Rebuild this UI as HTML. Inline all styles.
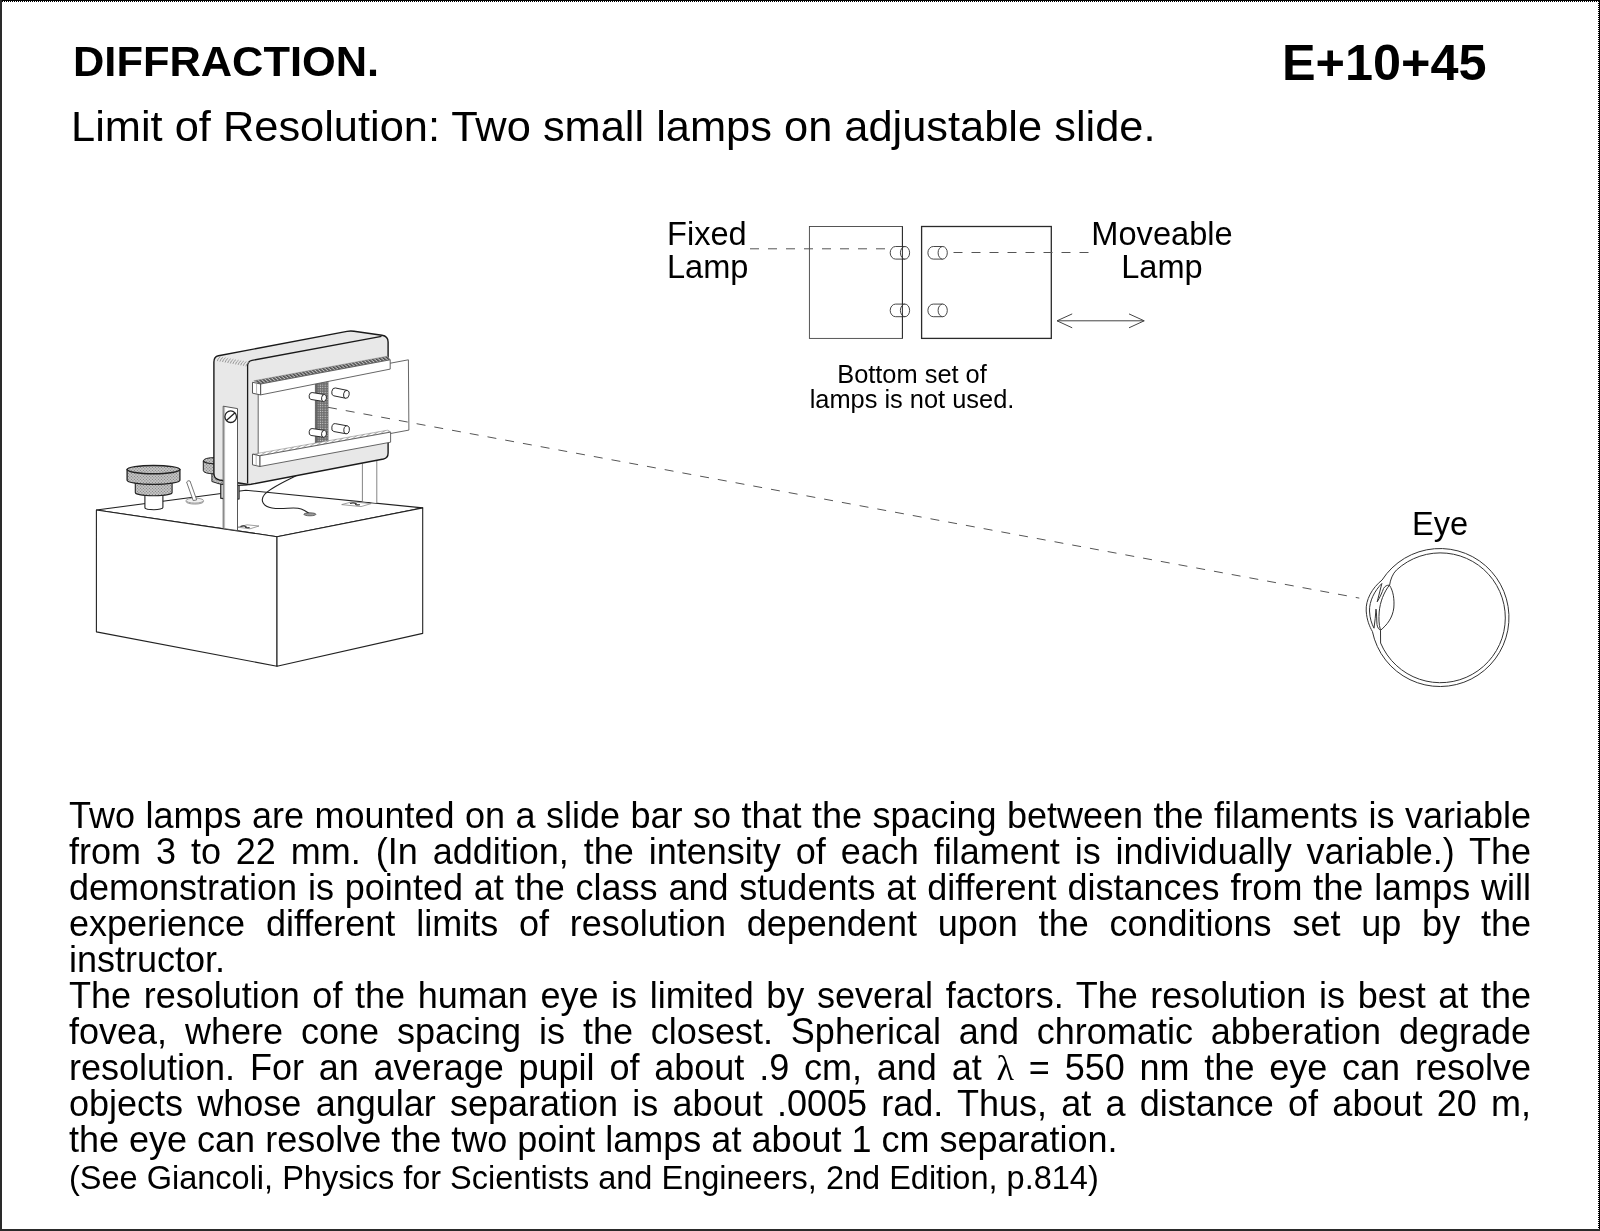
<!DOCTYPE html>
<html>
<head>
<meta charset="utf-8">
<title>DIFFRACTION E+10+45</title>
<style>
html,body{margin:0;padding:0;background:#fff;}
body{width:1600px;height:1231px;position:relative;overflow:hidden;-webkit-font-smoothing:antialiased;font-family:"Liberation Sans",sans-serif;color:#000;}
.bd{position:absolute;}
#bt{left:0;top:0;width:1600px;height:1px;background:#000;}
#bt2{left:2px;top:1px;width:1597px;height:1px;background:repeating-linear-gradient(90deg,#000 0 1px,#fff 1px 2px);}
#br{left:1599px;top:0;width:1px;height:1231px;background:#000;}
#br2{left:1598px;top:1px;width:1px;height:1228px;background:repeating-linear-gradient(180deg,#000 0 1px,#fff 1px 2px);}
#bl{left:0;top:0;width:2px;height:1231px;background:#2a2a2a;}
#bb{left:0;top:1229px;width:1600px;height:2px;background:#2a2a2a;}
.t{position:absolute;white-space:nowrap;margin:0;will-change:transform;}
#title{left:72.5px;top:37px;font-size:43.4px;font-weight:bold;line-height:48px;}
#code{left:1282px;top:35px;font-size:50.4px;font-weight:bold;line-height:56px;}
#sub{left:70.5px;top:102px;font-size:43.4px;line-height:48px;}
.lab{font-size:32.6px;line-height:32.5px;text-align:center;}
#fixed{left:667px;top:218px;text-align:left;}
#move{left:1082px;top:218px;width:160px;}
#bot{left:760px;top:362px;width:304px;font-size:25.4px;line-height:25.2px;text-align:center;}
#eye{left:1411.5px;top:506px;font-size:32.6px;line-height:36px;}
#body{will-change:transform;position:absolute;left:69px;top:798px;width:1462px;font-size:36px;line-height:36px;}
#body div{white-space:nowrap;text-align:justify;text-align-last:justify;height:36px;}
#body div.l{text-align:left;text-align-last:left;}
#ref{left:69px;top:1160px;font-size:32.5px;line-height:36px;}
svg{position:absolute;left:0;top:0;}
</style>
</head>
<body>
<div class="bd" id="bt"></div><div class="bd" id="bt2"></div><div class="bd" id="br"></div><div class="bd" id="br2"></div><div class="bd" id="bl"></div><div class="bd" id="bb"></div>
<div class="t" id="title">DIFFRACTION.</div>
<div class="t" id="code">E+10+45</div>
<div class="t" id="sub">Limit of Resolution: Two small lamps on adjustable slide.</div>
<div class="t lab" id="fixed">Fixed<br>Lamp</div>
<div class="t lab" id="move">Moveable<br>Lamp</div>
<div class="t" id="bot">Bottom set of<br>lamps is not used.</div>
<div class="t" id="eye">Eye</div>
<svg width="1600" height="1231" viewBox="0 0 1600 1231">
<defs>
<pattern id="stip" width="2.4" height="2.4" patternUnits="userSpaceOnUse"><rect width="2.4" height="2.4" fill="#6a6a6a"/><rect x="0.6" y="0.6" width="1.1" height="1.1" fill="#d8d8d8"/></pattern>
<pattern id="knob" width="3" height="3" patternUnits="userSpaceOnUse"><rect width="3" height="3" fill="#c6c6c6"/><rect x="0.4" y="0.4" width="1" height="1" fill="#6a6a6a"/><rect x="1.9" y="1.9" width="1" height="1" fill="#7a7a7a"/></pattern>
<pattern id="hat" width="2.6" height="6" patternUnits="userSpaceOnUse" patternTransform="rotate(-50)"><rect width="2.6" height="6" fill="#c4c4c4"/><rect width="1.5" height="6" fill="#4a4a4a"/></pattern>
<pattern id="hat2" width="3" height="6" patternUnits="userSpaceOnUse" patternTransform="rotate(55)"><rect width="3" height="6" fill="#fff"/><rect width="0.9" height="6" fill="#aaa"/></pattern>
</defs>
<g fill="none" stroke="#2a2a2a" stroke-width="1.1">
<rect x="809.4" y="226.5" width="93" height="111.9" stroke="#444" stroke-width="0.9"/>
<rect x="921.6" y="226.5" width="129.7" height="111.9" stroke-width="1.3"/>
</g>
<g stroke="#555" stroke-width="1" stroke-dasharray="9 9" fill="none">
<path d="M750,248.8 H888"/>
<path d="M953.5,252.5 H1090"/>
</g>
<g fill="#fff" stroke="#333" stroke-width="0.9"><path d="M895.6,246.5 H905.0 V259.1 H895.6 A5.4,6.3 0 0 1 895.6,246.5 Z"/><ellipse cx="905.0" cy="252.8" rx="4.6" ry="6.3"/></g>
<g fill="#fff" stroke="#333" stroke-width="0.9"><path d="M895.6,304.1 H905.0 V316.7 H895.6 A5.4,6.3 0 0 1 895.6,304.1 Z"/><ellipse cx="905.0" cy="310.4" rx="4.6" ry="6.3"/></g>
<g fill="#fff" stroke="#333" stroke-width="0.9"><path d="M933.3,246.5 H942.7 V259.1 H933.3 A5.4,6.3 0 0 1 933.3,246.5 Z"/><ellipse cx="942.7" cy="252.8" rx="4.6" ry="6.3"/></g>
<g fill="#fff" stroke="#333" stroke-width="0.9"><path d="M933.3,304.1 H942.7 V316.7 H933.3 A5.4,6.3 0 0 1 933.3,304.1 Z"/><ellipse cx="942.7" cy="310.4" rx="4.6" ry="6.3"/></g>
<path d="M902.4,226.5 V338.4" stroke="#2a2a2a" stroke-width="1" fill="none"/>
<g stroke="#444" stroke-width="1" fill="none"><path d="M1057,320.8 H1144.2"/><path d="M1072.2,313.9 L1057,320.8 L1072.2,327.8"/><path d="M1129,313.9 L1144.2,320.8 L1129,327.8"/></g>
<g fill="#fff" stroke="#222" stroke-width="1.1" stroke-linejoin="round">
<path d="M96.4,510 L245.8,490.2 L422.7,507.9 L277,536.7 Z"/>
<path d="M96.4,510 L277,536.7 L277,666.3 L96.4,631.9 Z"/>
<path d="M277,536.7 L422.7,507.9 L422.7,633.4 L277,666.3 Z"/>
</g>
<g fill="#fff" stroke="#777" stroke-width="0.7">
<path d="M341.7,504.6 L352,501.8 L371.2,503.6 L361,506.6 Z"/>
<path d="M238,527.2 L247,524.8 L259,526 L250,528.8 Z"/>
</g>
<path d="M350,503.6 q3,-1.5 6,0 q-2,1.6 4,1.2 M240.5,526.6 q3,-1.5 5.5,0 q-2,1.4 3.6,1" stroke="#333" stroke-width="1.1" fill="none"/>
<path d="M362.4,462 V501.3 L376.8,503 V459 Z" fill="#fff" stroke="none"/>
<path d="M362.4,463.5 V501.3 M376.8,460.5 V503" stroke="#777" stroke-width="0.9" fill="none"/>
<path d="M296.4,475.6 C286,481 270,488 264.5,494.5 C259.5,500.5 263.5,506.5 272,508 C283,509.8 294,506.5 301.2,508.9 C305,510.2 307,512 309.4,513.7" stroke="#222" stroke-width="1.1" fill="none"/>
<ellipse cx="309.9" cy="514.3" rx="6" ry="1.5" fill="#999" stroke="#333" stroke-width="0.7"/>
<g stroke="#222" stroke-width="1.1">
<path d="M144.9,494 V507.4 A9,2.3 0 0 0 162.9,507.4 V494 Z" fill="#fff"/>
<path d="M135.3,482 V492.6 A18.4,3.2 0 0 0 172.1,492.6 V482 Z" fill="url(#knob)"/>
<path d="M127.1,469.6 V480.3 A26.4,4.1 0 0 0 179.9,480.3 V469.6 Z" fill="url(#knob)" stroke-width="1.3"/>
<ellipse cx="153.5" cy="469.6" rx="26.4" ry="4.15" fill="url(#knob)" stroke-width="1.4"/>
</g>
<ellipse cx="194.8" cy="501.6" rx="8.7" ry="2.5" fill="#f0f0f0" stroke="#888" stroke-width="0.8"/>
<ellipse cx="194.8" cy="500.6" rx="8.7" ry="2.5" fill="#f0f0f0" stroke="#888" stroke-width="0.8"/>
<path d="M193.2,500.6 L186.6,482 Q187.8,480 190,481 L196.7,499.9 Z" fill="#fff" stroke="#666" stroke-width="0.9"/>
<g stroke="#222" stroke-width="1" fill="url(#knob)">
<path d="M220.8,484 V498.2 Q230,500.8 239,498.8 V484 Z" fill="#fff" stroke-width="1.3"/>
<path d="M211.9,470 V481.5 Q225,487 247.6,485 V470 Z"/>
<path d="M203.3,460.8 Q204,457.7 215,457.6 V474 Q203.3,473.5 203.3,470.5 Z"/>
<path d="M203.3,460.8 Q204.5,463.6 215,463.8" fill="none" stroke-width="1.2"/>
</g>
<path d="M213.9,362 Q213.9,356.5 218.5,355.7 L347,331.4 Q350.5,330.8 354,331.3 L382,335.3 Q388.1,336.3 388.1,342 L388.1,453 Q388.1,458 383.5,459 L251,484.3 Q249,484.6 247,484.2 L219.5,480 Q214,479 213.9,473.5 Z" fill="#e8e8e8" stroke="#1a1a1a" stroke-width="1.4" stroke-linejoin="round"/>
<path d="M247.6,483.5 L247.6,366 Q247.6,361.3 252,360.4 L381.5,336.3" fill="none" stroke="#1a1a1a" stroke-width="1.3"/>
<path d="M217.3,361.1 q0.4,-2.6 3.1,-4.3 M219.9,361.6 q0.4,-2.6 3.1,-4.3 M222.5,362.0 q0.4,-2.6 3.1,-4.3 M225.1,362.5 q0.4,-2.6 3.1,-4.3 M227.7,363.0 q0.4,-2.6 3.1,-4.3 M230.3,363.5 q0.4,-2.6 3.1,-4.3 M232.9,363.9 q0.4,-2.6 3.1,-4.3 M235.5,364.4 q0.4,-2.6 3.1,-4.3 M238.1,364.9 q0.4,-2.6 3.1,-4.3 M240.7,365.3 q0.4,-2.6 3.1,-4.3 M243.3,365.8 q0.4,-2.6 3.1,-4.3 M245.9,366.3 q0.4,-2.6 3.1,-4.3" stroke="#858585" stroke-width="0.8" fill="none"/>
<path d="M258.2,388 L408.4,359.8 L408.9,430.1 L258.2,458 Z" fill="#fff" stroke="#555" stroke-width="0.9"/>
<path d="M315.4,378 L328,375.8 L328,446 L315.4,448 Z" fill="url(#stip)"/>
<path d="M315.4,378 V448 M328,375.8 V446" stroke="#555" stroke-width="0.8" fill="none"/>
<path d="M315.4,378 L317.6,377.6 V447.6 L315.4,448 Z" fill="#666"/>
<g transform="translate(311.60,396.00) rotate(9.16)" fill="#fff" stroke="#222" stroke-width="0.9"><path d="M0,-3.50 L12.56,-3.50 L12.56,3.50 L0,3.50 A2.45,3.50 0 0 1 0,-3.50 Z"/><ellipse cx="12.56" cy="0" rx="2.45" ry="3.50"/></g>
<g transform="translate(334.60,391.90) rotate(11.50)" fill="#fff" stroke="#222" stroke-width="0.9"><path d="M0,-4.00 L12.04,-4.00 L12.04,4.00 L0,4.00 A2.80,4.00 0 0 1 0,-4.00 Z"/><ellipse cx="12.04" cy="0" rx="2.80" ry="4.00"/></g>
<g transform="translate(311.60,432.00) rotate(8.26)" fill="#fff" stroke="#222" stroke-width="0.9"><path d="M0,-3.50 L12.53,-3.50 L12.53,3.50 L0,3.50 A2.45,3.50 0 0 1 0,-3.50 Z"/><ellipse cx="12.53" cy="0" rx="2.45" ry="3.50"/></g>
<g transform="translate(334.60,427.60) rotate(10.39)" fill="#fff" stroke="#222" stroke-width="0.9"><path d="M0,-4.00 L12.20,-4.00 L12.20,4.00 L0,4.00 A2.80,4.00 0 0 1 0,-4.00 Z"/><ellipse cx="12.20" cy="0" rx="2.80" ry="4.00"/></g>
<path d="M260.6,384.0 L390.2,359.8 L387.59999999999997,356.20 L253.8,380.80 Z" fill="url(#hat)" stroke="#777" stroke-width="0.5"/><path d="M260.6,384.0 L390.2,359.8 L390.2,369.1 L260.6,394.9 Z" fill="#fff" stroke="#555" stroke-width="0.9"/><path d="M260.6,384.0 L252.50000000000003,382.3 L252.50000000000003,393.2 L260.6,394.9 Z" fill="#fff" stroke="#444" stroke-width="0.9"/><path d="M256.55,383.2 V394.09999999999997" stroke="#999" stroke-width="0.7"/>
<path d="M259.8,455.8 L390.6,432.1 L388.0,430.10 L253.0,454.20 Z" fill="url(#hat2)" stroke="#777" stroke-width="0.5"/><path d="M259.8,455.8 L390.6,432.1 L390.6,442.20000000000005 L259.8,466.5 Z" fill="#fff" stroke="#555" stroke-width="0.9"/><path d="M259.8,455.8 L252.5,454.1 L252.5,464.8 L259.8,466.5 Z" fill="#fff" stroke="#444" stroke-width="0.9"/><path d="M256.15000000000003,455.0 V465.7" stroke="#999" stroke-width="0.7"/>
<path d="M328,407.3 L1359.3,598.1" stroke="#555" stroke-width="1" stroke-dasharray="9 9.02" fill="none"/>
<path d="M223.2,406.2 L237.5,408.6 L237.5,530.6 L223.2,528.5 Z" fill="#fff" stroke="#444" stroke-width="0.9"/>
<path d="M224.6,407 V528.6" stroke="#999" stroke-width="0.7"/>
<circle cx="230.7" cy="416.7" r="5.8" fill="#fff" stroke="#222" stroke-width="1.3"/>
<path d="M226.4,420.6 L235,412.8" stroke="#222" stroke-width="1.3"/>
<g fill="none" stroke="#333" stroke-width="1">
<path d="M1382,580.1 A69,69 0 1 1 1372.4,631.5"/>
<path d="M1382,580.1 C1372,588 1365.5,600 1366.2,611 C1366.8,620 1369.5,626.5 1372.4,631.5"/>
<path d="M1381.7,583.6 C1374.5,591 1369.3,601 1369.5,611 C1369.8,618.5 1371.8,624 1374,628.2"/>
<path d="M1389.6,585.2 C1390.2,580 1392.8,573.4 1396.5,570 A64.9,64.9 0 1 1 1380.6,643 L1380.5,630.3"/>
<path d="M1389.4,585.2 C1393.5,591 1394.5,600 1393.8,608 C1392.5,618 1387,625 1380.5,630.3 C1378.6,624 1378.8,618 1379.2,612 C1380,602 1384,592 1389.4,585.2 Z"/>
<path d="M1381.9,583.4 L1377.2,601.8 C1380,597.5 1382,592.5 1383.6,588.4 C1385,586 1387,585 1389.4,585.2"/>
<path d="M1374,628.2 C1375,622 1375.5,615 1376,609.1 C1376.8,614 1376.6,620 1377,624.6 C1377.6,628 1379,629.5 1380.5,630.3"/>
</g>
</svg>
<div id="body">
<div>Two lamps are mounted on a slide bar so that the spacing between the filaments is variable</div>
<div>from 3 to 22 mm. (In addition, the intensity of each filament is individually variable.) The</div>
<div>demonstration is pointed at the class and students at different distances from the lamps will</div>
<div>experience different limits of resolution dependent upon the conditions set up by the</div>
<div class="l">instructor.</div>
<div>The resolution of the human eye is limited by several factors. The resolution is best at the</div>
<div>fovea, where cone spacing is the closest. Spherical and chromatic abberation degrade</div>
<div>resolution. For an average pupil of about .9 cm, and at <span style="font-family:'Liberation Serif',serif">λ</span> = 550 nm the eye can resolve</div>
<div>objects whose angular separation is about .0005 rad. Thus, at a distance of about 20 m,</div>
<div class="l">the eye can resolve the two point lamps at about 1 cm separation.</div>
</div>
<div class="t" id="ref">(See Giancoli, Physics for Scientists and Engineers, 2nd Edition, p.814)</div>
</body>
</html>
